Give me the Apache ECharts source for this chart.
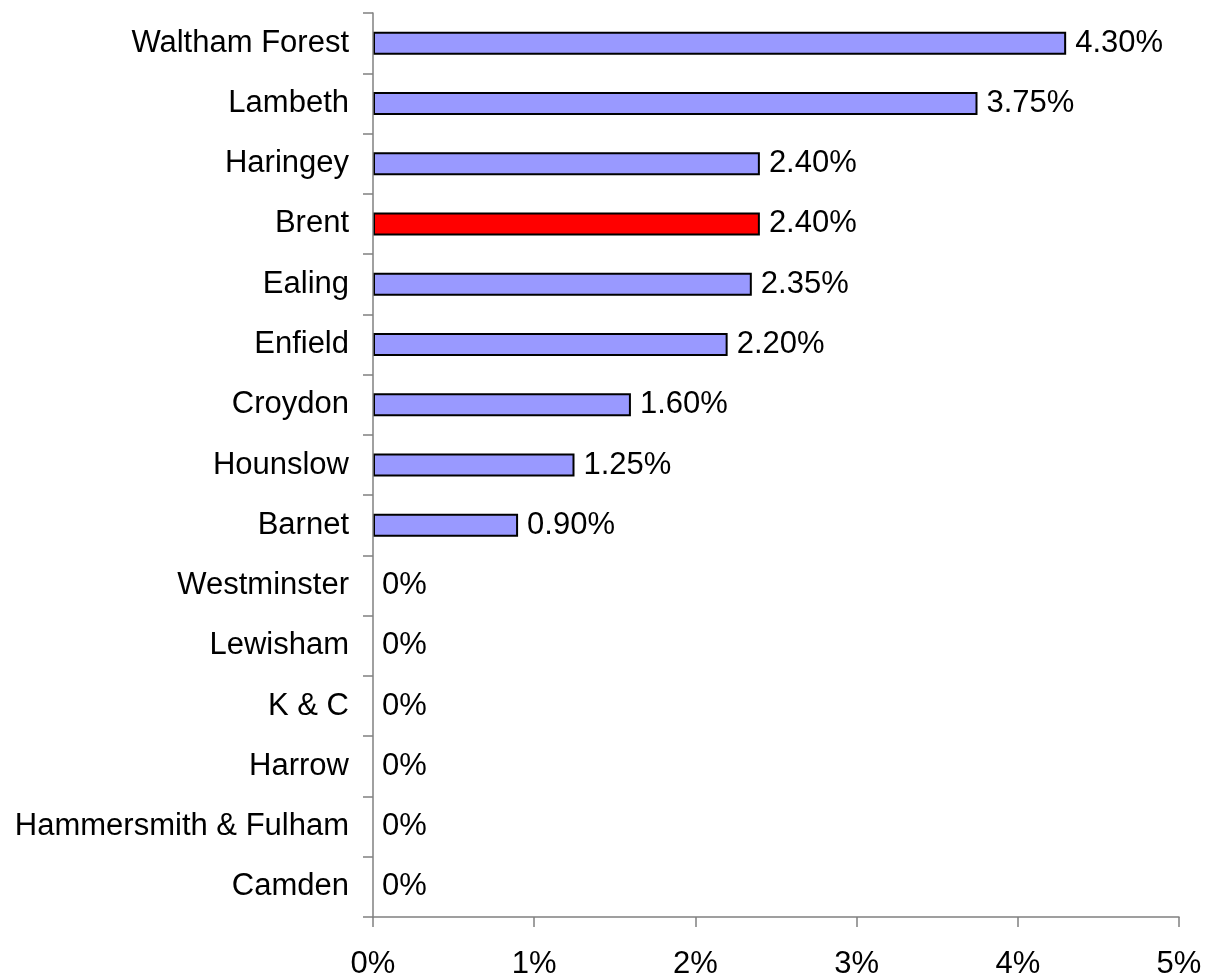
<!DOCTYPE html>
<html>
<head>
<meta charset="utf-8">
<script src="https://cdn.jsdelivr.net/npm/echarts@6/dist/echarts.min.js"></script>
<style>
  html, body { margin: 0; padding: 0; background: #fff; }
  #chart { width: 1207px; height: 980px; }
</style>
</head>
<body>
<div id="chart"></div>
<script>
// boroughs, top to bottom
var boroughs = ['Waltham Forest', 'Lambeth', 'Haringey', 'Brent', 'Ealing', 'Enfield',
  'Croydon', 'Hounslow', 'Barnet', 'Westminster', 'Lewisham', 'K & C', 'Harrow',
  'Hammersmith & Fulham', 'Camden'];
// percent values
var rates = [4.30, 3.75, 2.40, 2.40, 2.35, 2.20, 1.60, 1.25, 0.90, 0, 0, 0, 0, 0, 0];
var highlight = 'Brent';
var xTicks = [0, 1, 2, 3, 4, 5];

var font = "'Liberation Sans', Arial, sans-serif";
var chart = echarts.init(document.getElementById('chart'));

var option = {
  animation: false,
  grid: { left: 373, right: 28, top: 13, bottom: 62 },
  xAxis: {
    type: 'value',
    min: xTicks[0],
    max: xTicks[xTicks.length - 1],
    interval: 1,
    axisLine: { show: true, lineStyle: { color: '#808080', width: 1.5 } },
    axisTick: { show: true, length: 10, lineStyle: { color: '#808080', width: 1.5 } },
    splitLine: { show: false },
    axisLabel: {
      formatter: '{value}%',
      color: '#000',
      fontFamily: font,
      fontSize: 31,
      margin: 32
    }
  },
  yAxis: {
    type: 'category',
    inverse: true,
    data: boroughs,
    z: 5,
    axisLine: { show: true, lineStyle: { color: '#808080', width: 1.5 } },
    axisTick: { show: true, length: 10, lineStyle: { color: '#808080', width: 1.5 } },
    axisLabel: {
      color: '#000',
      fontFamily: font,
      fontSize: 31,
      margin: 24
    }
  },
  series: [{
    type: 'bar',
    barWidth: 23,
    data: rates.map(function (v, i) {
      return {
        value: v,
        itemStyle: {
          color: boroughs[i] === highlight ? '#ff0000' : '#9999ff',
          borderWidth: v === 0 ? 0 : 2
        }
      };
    }),
    itemStyle: { borderColor: '#000' },
    label: {
      show: true,
      position: 'right',
      distance: 9,
      color: '#000',
      fontFamily: font,
      fontSize: 31,
      formatter: function (p) {
        return p.value === 0 ? '0%' : p.value.toFixed(2) + '%';
      }
    }
  }]
};

chart.setOption(option);
</script>
</body>
</html>
